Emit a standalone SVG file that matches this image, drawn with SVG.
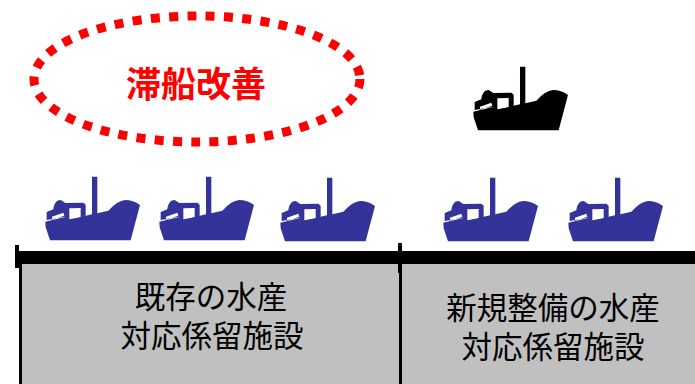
<svg xmlns="http://www.w3.org/2000/svg" width="695" height="384" viewBox="0 0 695 384">
<style>
.t{font-family:"Liberation Sans","Noto Sans CJK JP",sans-serif;font-size:30.5px;fill:#000;text-anchor:middle}
.blue{fill:#333399}
</style>
<defs>
<g id="ship">
<path d="M46 155L47 172L60 211L302 211L330 105Q310 90 285 90Q262 92 235 122L202 130L202 20L186 20L186 133L167 137L120 150L105 141L46 155Z"/>
<path fill-rule="evenodd" d="M50 150L50 126L70 118C72 100 80 90 92 90L106 99L160 98L167 104L167 140L118 152L104 140ZM118 115L152 114L152 142L118 148ZM66 140L100 128L103 137L66 149Z"/>
</g>
</defs>
<rect width="695" height="384" fill="#fff"/>
<g id="piers">
<rect x="20" y="262" width="675" height="122" fill="#c0c0c0"/>
<rect x="19" y="262" width="3" height="122" fill="#000"/>
<rect x="399" y="262" width="3" height="122" fill="#000"/>
</g>
<g id="connectors">
<rect x="15" y="251" width="680" height="13" fill="#000"/>
<rect x="15" y="245" width="4" height="23" fill="#000"/>
<rect x="398" y="243" width="4" height="30" fill="#000"/>
</g>
<g id="congestion">
<ellipse cx="197" cy="79" rx="163" ry="63" fill="none" stroke="#ff0000" stroke-width="9" stroke-dasharray="9 9.3"/>
<text x="196" y="97" font-family="'Liberation Sans','Noto Sans CJK JP',sans-serif" font-size="35" font-weight="700" fill="#ff0000" text-anchor="middle">滞船改善</text>
</g>
<g id="ship-new"><use href="#ship" transform="translate(458,60) scale(.3333)" fill="#000"/></g>
<g id="ship-1"><use href="#ship" transform="translate(30,170) scale(.3333)" class="blue"/></g>
<g id="ship-2"><use href="#ship" transform="translate(144,170) scale(.3333)" class="blue"/></g>
<g id="ship-3"><use href="#ship" transform="translate(265,171) scale(.3333)" class="blue"/></g>
<g id="ship-4"><use href="#ship" transform="translate(428,171) scale(.3333)" class="blue"/></g>
<g id="ship-5"><use href="#ship" transform="translate(553,171) scale(.3333)" class="blue"/></g>
<g id="label-existing">
<text class="t"><tspan x="211" y="308">既存の水産</tspan><tspan x="212" y="347">対応係留施設</tspan></text>
</g>
<g id="label-new">
<text class="t"><tspan x="553" y="319">新規整備の水産</tspan><tspan x="553" y="358">対応係留施設</tspan></text>
</g>
</svg>
